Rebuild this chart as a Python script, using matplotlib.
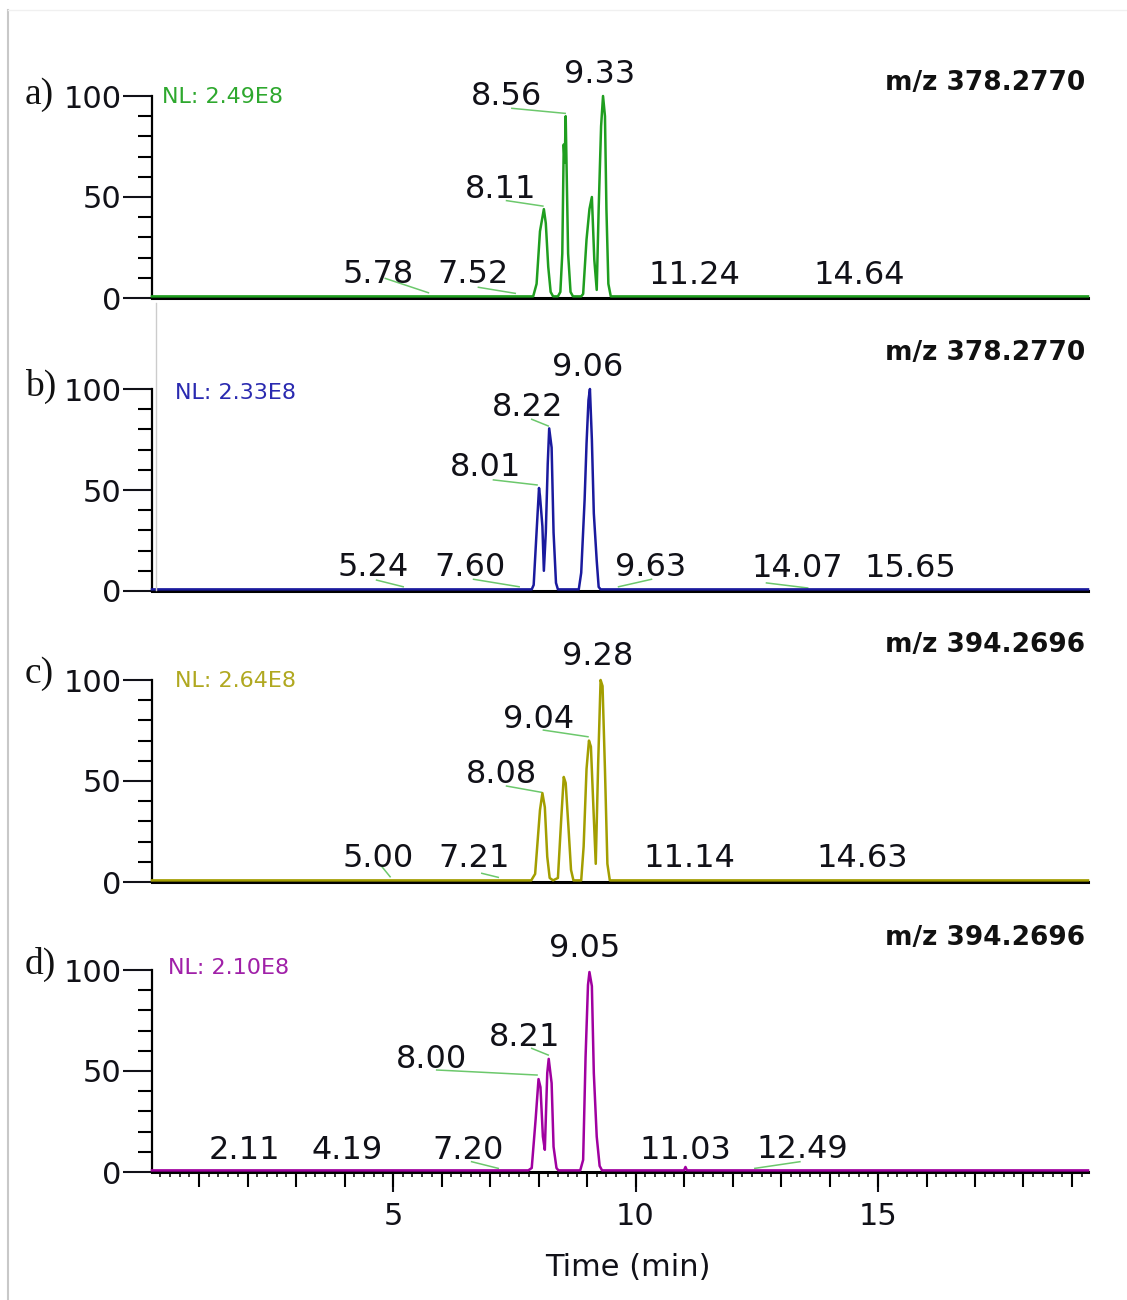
import matplotlib
matplotlib.use("Agg")
import matplotlib.pyplot as plt
from matplotlib.ticker import MultipleLocator, NullFormatter
from matplotlib.lines import Line2D

plt.rcParams['font.family'] = ['DejaVu Sans']

# retention time (min) / relative abundance (%)
a_time = [0.03, 7.89, 7.96, 8.03, 8.11, 8.15, 8.20, 8.25, 8.30, 8.40, 8.45, 8.49, 8.52, 8.54, 8.56,
          8.61, 8.66, 8.71, 8.88, 8.92, 8.99, 9.05, 9.10, 9.15, 9.20, 9.24, 9.29, 9.33, 9.37, 9.40,
          9.44, 9.49, 19.33]
a_int = [0.8, 0.8, 7, 33, 44, 37, 15.5, 3, 0.8, 0.8, 3, 22, 76, 67, 90,
         22, 3, 0.8, 0.8, 2, 29, 44, 50, 19, 4, 44, 85, 100, 90, 44,
         7, 0.8, 0.8]

b_time = [0.03, 7.86, 7.90, 7.95, 8.01, 8.03, 8.08, 8.11, 8.15, 8.19, 8.22, 8.27, 8.31, 8.36, 8.40,
          8.83, 8.88, 8.95, 8.99, 9.03, 9.06, 9.10, 9.14, 9.20, 9.24, 9.28, 19.33]
b_int = [0.8, 0.8, 3, 25, 51, 47, 32, 10, 29, 63, 80.5, 71, 29, 4, 0.8,
         0.8, 9, 45, 73, 94.5, 100, 75, 38.5, 15, 2, 0.8, 0.8]

c_time = [0.03, 7.85, 7.93, 8.03, 8.08, 8.13, 8.18, 8.23, 8.30, 8.40, 8.47, 8.52, 8.56, 8.62, 8.67,
          8.72, 8.88, 8.93, 8.99, 9.04, 9.08, 9.14, 9.18, 9.23, 9.28, 9.32, 9.37, 9.42, 9.47, 19.33]
c_int = [0.8, 0.8, 4, 35.6, 44, 37, 12.5, 2, 0.8, 2, 32, 52, 49, 26, 6,
         0.8, 0.8, 17.5, 56, 70, 67, 32, 9, 59, 100, 97, 55.5, 9, 0.8, 0.8]

d_time = [0.03, 7.79, 7.86, 7.94, 8.00, 8.04, 8.09, 8.13, 8.18, 8.21, 8.27, 8.31, 8.37, 8.41,
          8.86, 8.92, 8.97, 9.02, 9.05, 9.10, 9.14, 9.20, 9.26, 9.31, 11.00, 11.03, 11.06, 19.33]
d_int = [0.8, 0.8, 2, 26, 46, 42, 17.5, 11, 49, 56, 44, 12.5, 2, 0.8,
         0.8, 6, 57, 92.6, 99, 92, 49, 17.5, 3, 0.8, 0.8, 2.5, 0.8, 0.8]

# peak labels: text, x, baseline y (data units)
a_lab = ['5.78', '7.52', '8.11', '8.56', '9.33', '11.24', '14.64']
a_lab_x = [4.70, 6.64, 7.22, 7.34, 9.25, 11.21, 14.61]
a_lab_y = [7.2, 7.2, 49.5, 95.5, 106.4, 6.9, 6.9]
a_lead = [(4.84, 9.7, 5.73, 2.6), (6.76, 5.3, 7.52, 2.3), (7.34, 48.2, 8.09, 45.5), (7.45, 93.9, 8.55, 91.4)]

b_lab = ['5.24', '7.60', '8.01', '8.22', '9.06', '9.63', '14.07', '15.65']
b_lab_x = [4.58, 6.59, 6.91, 7.77, 9.01, 10.32, 13.33, 15.66]
b_lab_y = [7.5, 7.5, 57.0, 86.7, 106.5, 7.5, 6.7, 6.7]
b_lead = [(4.66, 5.4, 5.21, 2.1), (6.66, 5.8, 7.60, 2.1), (7.07, 55.0, 7.97, 52.5), (7.86, 85.0, 8.20, 81.7),
          (9.65, 2.1, 10.33, 5.8), (12.70, 4.0, 13.55, 1.5)]

c_lab = ['5.00', '7.21', '8.08', '9.04', '9.28', '11.14', '14.63']
c_lab_x = [4.70, 6.67, 7.24, 8.01, 9.22, 11.12, 14.67]
c_lab_y = [7.2, 7.2, 48.8, 76.1, 107.4, 7.2, 7.2]
c_lead = [(4.77, 7.6, 4.94, 2.6), (6.83, 4.3, 7.17, 2.3), (7.34, 47.5, 8.06, 44.4), (8.10, 75.2, 9.02, 71.9)]

d_lab = ['2.11', '4.19', '7.20', '8.00', '8.21', '9.05', '11.03', '12.49']
d_lab_x = [1.93, 4.06, 6.55, 5.80, 7.71, 8.96, 11.02, 13.44]
d_lab_y = [6.3, 6.3, 6.3, 51.7, 62.5, 106.2, 6.3, 6.7]
d_lead = [(6.62, 5.1, 7.17, 1.8), (5.90, 50.5, 7.97, 48.0), (7.86, 61.2, 8.20, 57.9), (12.46, 1.8, 13.39, 5.1)]

nl_text = ['NL: 2.49E8', 'NL: 2.33E8', 'NL: 2.64E8', 'NL: 2.10E8']
nl_x = [0.24, 0.51, 0.51, 0.37]
nl_y = [96.3, 94.9, 96.3, 97.9]
mz_text = ['m/z 378.2770', 'm/z 378.2770', 'm/z 394.2696', 'm/z 394.2696']
panel_tag = ['a)', 'b)', 'c)', 'd)']

traces = [(a_time, a_int), (b_time, b_int), (c_time, c_int), (d_time, d_int)]
labels = [(a_lab, a_lab_x, a_lab_y, a_lead), (b_lab, b_lab_x, b_lab_y, b_lead),
          (c_lab, c_lab_x, c_lab_y, c_lead), (d_lab, d_lab_x, d_lab_y, d_lead)]
colors = ['#1f9e1f', '#1a1a9e', '#a39e00', '#a000a0']
nl_colors = ['#2ea82e', '#2a2ab0', '#b0a820', '#a020a8']
lead_color = '#6cc86c'

W, H = 1127, 1300
fig = plt.figure(figsize=(W / 100, H / 100), dpi=100)

base_px = [298, 591, 882, 1172]
mz_px = [83, 353, 645, 938]
tag_px = [104, 396, 683, 974]
left, right = 152, 1088

for i in range(4):
    ax = fig.add_axes([left / W, 1 - base_px[i] / H, (right - left) / W, 202 / H])
    t, y = traces[i]
    ax.plot(t, y, color=colors[i], lw=1.8, zorder=5, clip_on=False)
    ax.set_xlim(0.03, 19.33)
    ax.set_ylim(0, 100)

    lab, lx, ly, lead = labels[i]
    for s, x0, y0 in zip(lab, lx, ly):
        ax.text(x0, y0, s, ha='center', va='baseline', fontsize=23, color='#111118')
    for x0, y0, x1, y1 in lead:
        ax.plot([x0, x1], [y0, y1], color=lead_color, lw=1.1, clip_on=False)

    ax.text(nl_x[i], nl_y[i], nl_text[i], ha='left', va='baseline', fontsize=16, color=nl_colors[i])

    for sp in ['top', 'right']:
        ax.spines[sp].set_visible(False)
    ax.spines['left'].set_bounds(0, 100)
    ax.spines['left'].set_linewidth(1.6)
    ax.spines['bottom'].set_linewidth(2.2)

    ax.set_yticks([0, 50, 100])
    ax.yaxis.set_minor_locator(MultipleLocator(10))
    ax.tick_params(axis='y', which='major', length=21, width=1.5, labelsize=22, pad=1, colors='#111118')
    ax.tick_params(axis='y', which='minor', length=10, width=1.5)

    if i < 3:
        ax.tick_params(axis='x', which='both', bottom=False, labelbottom=False)
    else:
        ax.xaxis.set_major_locator(MultipleLocator(1))
        ax.xaxis.set_major_formatter(NullFormatter())
        ax.xaxis.set_minor_locator(MultipleLocator(0.2))
        ax.tick_params(axis='x', which='major', length=10.8, width=1.5)
        ax.tick_params(axis='x', which='minor', length=3.6, width=1.1)
        sec = ax.secondary_xaxis('bottom')
        sec.set_xticks([5, 10, 15])
        sec.tick_params(length=14.4, width=1.5, labelsize=22, pad=7, colors='#111118')
        sec.spines['bottom'].set_visible(False)

    fig.text(1085 / W, 1 - mz_px[i] / H, mz_text[i], ha='right', va='center',
             fontsize=19, fontweight='bold', color='#111111')
    fig.text(25 / W, 1 - tag_px[i] / H, panel_tag[i], ha='left', va='baseline',
             fontsize=27, family='Liberation Serif', color='#111111')

fig.text(628 / W, 1 - 1268 / H, 'Time (min)', ha='center', va='center', fontsize=22, color='#111118')

# light frame edges of the original image
fig.add_artist(Line2D([8 / W, 8 / W], [0, 1 - 10 / H], color='#c8c8c8', lw=1.5))
fig.add_artist(Line2D([8 / W, 1], [1 - 10 / H, 1 - 10 / H], color='#f0f0f0', lw=1))
fig.add_artist(Line2D([156 / W, 156 / W], [1 - 303 / H, 1 - 590 / H], color='#cccccc', lw=1))

fig.savefig('out.png', dpi=100)
